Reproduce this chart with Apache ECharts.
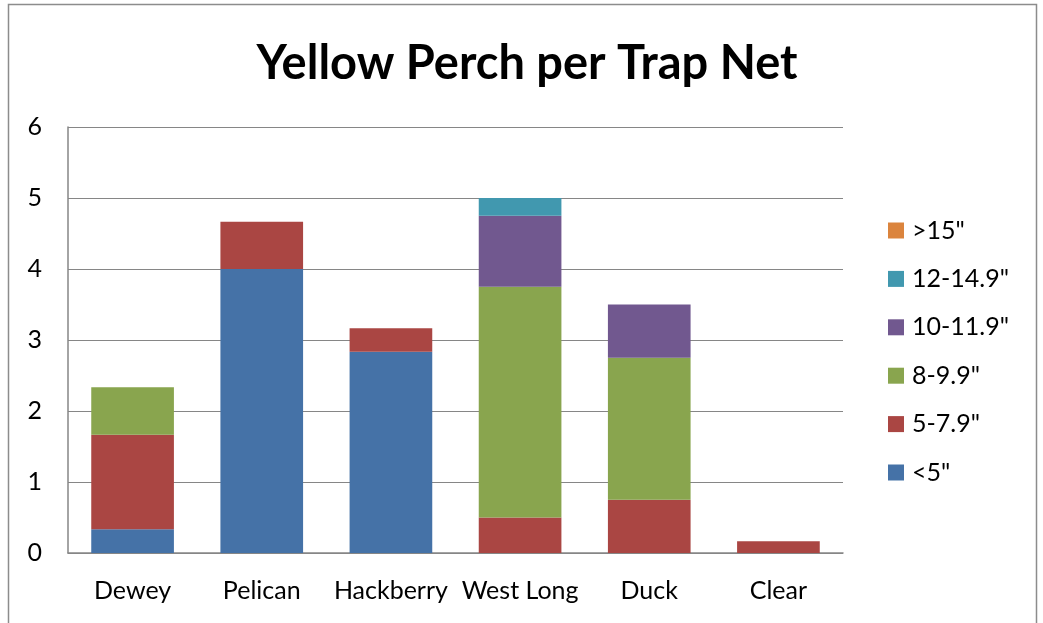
<!DOCTYPE html>
<html>
<head>
<meta charset="utf-8">
<script src="https://cdn.jsdelivr.net/npm/echarts@6/dist/echarts.min.js"></script>
<style>
  html, body { margin: 0; padding: 0; background: #fff; }
  #chart { width: 1043px; height: 623px; }
</style>
</head>
<body>
<div id="chart"></div>
<script>
// Lakes sampled
const lakes = ['Dewey', 'Pelican', 'Hackberry', 'West Long', 'Duck', 'Clear'];

// Yellow perch caught per trap net, by length class
const under5 = [0.333, 4, 2.833, 0, 0, 0];
const len5to79 = [1.333, 0.667, 0.333, 0.5, 0.75, 0.167];
const len8to99 = [0.667, 0, 0, 3.25, 2, 0];
const len10to119 = [0, 0, 0, 1, 0.75, 0];
const len12to149 = [0, 0, 0, 0.25, 0, 0];
const over15 = [0, 0, 0, 0, 0, 0];

const sizeClasses = ['<5"', '5-7.9"', '8-9.9"', '10-11.9"', '12-14.9"', '>15"'];
const classValues = [under5, len5to79, len8to99, len10to119, len12to149, over15];
const classColors = ['#4572A7', '#AA4643', '#89A54E', '#71588F', '#4198AF', '#DB843D'];

const font = 'Lato, "Open Sans", sans-serif';

const chart = echarts.init(document.getElementById('chart'));
chart.setOption({
  animation: false,
  title: {
    text: 'Yellow Perch per Trap Net',
    top: 35,
    left: 522,
    textAlign: 'center',
    textStyle: { fontFamily: font, fontWeight: 'bold', fontSize: 47, color: '#000' }
  },
  graphic: [{
    type: 'rect',
    shape: { x: 8.5, y: 4.5, width: 1028, height: 640 },
    style: { fill: 'none', stroke: '#8c8c8c', lineWidth: 1.5 },
    silent: true
  }],
  legend: {
    orient: 'vertical',
    left: 888,
    top: 218,
    padding: 0,
    itemWidth: 16,
    itemHeight: 16,
    itemGap: 23.4,
    icon: 'rect',
    data: sizeClasses.slice().reverse(),
    textStyle: { fontFamily: font, fontSize: 25, color: '#000', lineHeight: 24, padding: [0, 0, 0, 3] }
  },
  grid: { left: 68, right: 200, top: 127, bottom: 70, containLabel: false },
  xAxis: {
    type: 'category',
    data: lakes,
    axisLine: { lineStyle: { color: '#868686', width: 1.5 } },
    axisTick: { show: false },
    axisLabel: { fontFamily: font, fontSize: 25, color: '#000', margin: 25, interval: 0 }
  },
  yAxis: {
    type: 'value',
    min: 0,
    max: 6,
    interval: 1,
    axisLine: { show: true, lineStyle: { color: '#868686', width: 1.5 } },
    axisTick: { show: false },
    splitLine: { lineStyle: { color: '#868686', width: 1.2 } },
    axisLabel: { fontFamily: font, fontSize: 25, color: '#000', margin: 26 }
  },
  series: sizeClasses.map((name, i) => ({
    name: name,
    type: 'bar',
    stack: 'total',
    data: classValues[i],
    barWidth: '64%',
    itemStyle: { color: classColors[i] }
  }))
});
</script>
</body>
</html>
